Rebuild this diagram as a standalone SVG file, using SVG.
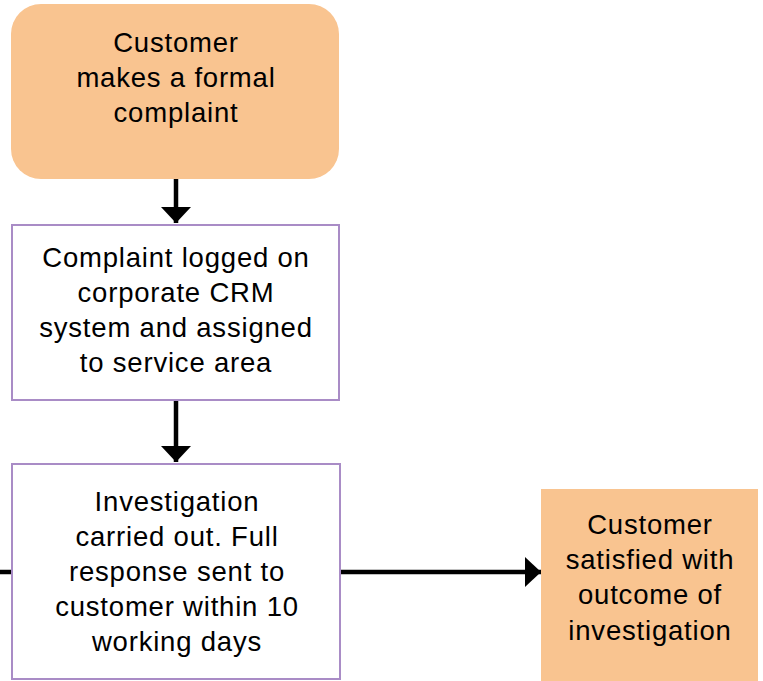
<svg xmlns="http://www.w3.org/2000/svg" width="763" height="681" viewBox="0 0 763 681">
<style>
.orange{fill:#F9C490;stroke:none}
.box{fill:#FFFFFF;stroke:#A98CC6;stroke-width:2}
.t{font-family:"Liberation Sans",Arial,sans-serif;font-size:27.5px;letter-spacing:0.8px;fill:#000;text-anchor:middle}
.c{stroke:#000;stroke-width:4.5;fill:none}
</style>
<defs>
<marker id="ah" markerUnits="userSpaceOnUse" markerWidth="16" markerHeight="30" refX="16" refY="15" orient="auto">
<path d="M0,0 L16,15 L0,30 Z" fill="#000"/>
</marker>
</defs>
<g id="connectors">
<line class="c" x1="176" y1="179" x2="176" y2="223" marker-end="url(#ah)"/>
<line class="c" x1="176" y1="401" x2="176" y2="462" marker-end="url(#ah)"/>
<line class="c" x1="340" y1="572" x2="541" y2="572" marker-end="url(#ah)"/>
<line class="c" x1="0" y1="572" x2="12" y2="572"/>
</g>
<g id="n1">
<rect class="orange" x="11" y="4" width="328" height="175" rx="30" ry="30"/>
<text class="t" x="176" y="52">Customer</text>
<text class="t" x="176" y="87">makes a formal</text>
<text class="t" x="176" y="122">complaint</text>
</g>
<g id="n2">
<rect class="box" x="12" y="225" width="327" height="175"/>
<text class="t" x="176" y="267">Complaint logged on</text>
<text class="t" x="176" y="302">corporate CRM</text>
<text class="t" x="176" y="337">system and assigned</text>
<text class="t" x="176" y="372">to service area</text>
</g>
<g id="n3">
<rect class="box" x="12" y="464" width="328" height="215"/>
<text class="t" x="177" y="511">Investigation</text>
<text class="t" x="177" y="546">carried out. Full</text>
<text class="t" x="177" y="581">response sent to</text>
<text class="t" x="177" y="616">customer within 10</text>
<text class="t" x="177" y="651">working days</text>
</g>
<g id="n4">
<rect class="orange" x="541" y="489" width="217" height="192"/>
<text class="t" x="650" y="534">Customer</text>
<text class="t" x="650" y="569">satisfied with</text>
<text class="t" x="650" y="604">outcome of</text>
<text class="t" x="650" y="640">investigation</text>
</g>
</svg>
